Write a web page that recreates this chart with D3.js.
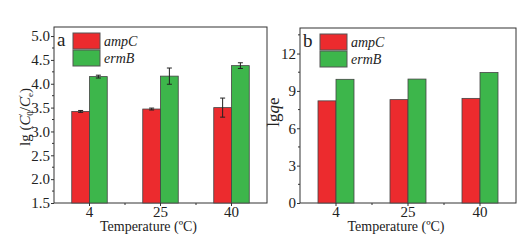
<!DOCTYPE html>
<html>
<head>
<meta charset="utf-8">
<script src="https://d3js.org/d3.v7.min.js"></script>
<style>
  body { margin: 0; background: #fff; }
</style>
</head>
<body>
<div id="chart"></div>
<script>
// data
var temps = ["4", "25", "40"];
var genes = ["ampC", "ermB"];
var removalAmpC = [3.42, 3.47, 3.50];
var removalErmB = [4.15, 4.16, 4.38];
var errAmpC = [0.02, 0.02, 0.20];
var errErmB = [0.03, 0.17, 0.06];
var lgqeAmpC = [8.2, 8.3, 8.4];
var lgqeErmB = [9.93, 9.95, 10.47];
var ticksA = [1.5, 2.0, 2.5, 3.0, 3.5, 4.0, 4.5, 5.0];
var ticksB = [0, 3, 6, 9, 12];

var red = "#ec2b2e", green = "#3db64b";
var serif = "'Liberation Serif', 'DejaVu Serif', 'Times New Roman', serif";

var svg = d3.select("#chart").append("svg")
    .attr("width", 529)
    .attr("height", 243);

function panel(opt) {
    var g = svg.append("g");
    var x = d3.scaleBand().domain(temps).range([opt.left, opt.right]).padding(0);
    var y = d3.scaleLinear().domain(opt.domain).range([opt.bottom, opt.top]);
    var barW = x.bandwidth() * 0.25;

    // frame
    g.append("rect")
        .attr("x", opt.left).attr("y", opt.top)
        .attr("width", opt.right - opt.left).attr("height", opt.bottom - opt.top)
        .attr("fill", "none").attr("stroke", "#333").attr("stroke-width", 1);

    // bars
    var series = [
        { vals: opt.amp, err: opt.errAmp, color: red, off: -1 },
        { vals: opt.erm, err: opt.errErm, color: green, off: 0 }
    ];
    series.forEach(function (s) {
        g.selectAll(null)
            .data(temps)
            .join("rect")
            .attr("x", function (d) { return x(d) + x.bandwidth() / 2 + s.off * barW; })
            .attr("y", function (d, i) { return y(s.vals[i]); })
            .attr("width", barW)
            .attr("height", function (d, i) { return opt.bottom - y(s.vals[i]); })
            .attr("fill", s.color)
            .attr("stroke", "#444")
            .attr("stroke-width", 0.8);
        if (s.err) {
            temps.forEach(function (d, i) {
                var cx = x(d) + x.bandwidth() / 2 + s.off * barW + barW / 2;
                var y1 = y(s.vals[i] + s.err[i]), y2 = y(s.vals[i] - s.err[i]);
                g.append("line").attr("x1", cx).attr("x2", cx).attr("y1", y1).attr("y2", y2)
                    .attr("stroke", "#222").attr("stroke-width", 1);
                [y1, y2].forEach(function (yy) {
                    g.append("line").attr("x1", cx - 2.5).attr("x2", cx + 2.5).attr("y1", yy).attr("y2", yy)
                        .attr("stroke", "#222").attr("stroke-width", 1);
                });
            });
        }
    });

    // y axis
    var yAxis = g.append("g")
        .attr("transform", "translate(" + opt.left + ",0)")
        .call(d3.axisLeft(y).tickValues(opt.ticks).tickSize(3).tickPadding(1)
            .tickFormat(opt.fmt));
    yAxis.select(".domain").remove();
    yAxis.selectAll("line").attr("stroke", "#333");
    yAxis.selectAll("text").style("font-size", "15px");
    // minor ticks
    g.selectAll(null)
        .data(opt.minor)
        .join("line")
        .attr("x1", opt.left - 2).attr("x2", opt.left)
        .attr("y1", function (d) { return y(d); }).attr("y2", function (d) { return y(d); })
        .attr("stroke", "#333");

    // x axis
    var xAxis = g.append("g")
        .attr("transform", "translate(0," + opt.bottom + ")")
        .call(d3.axisBottom(x).tickSize(3).tickPadding(0));
    xAxis.select(".domain").remove();
    xAxis.selectAll("line").attr("stroke", "#333");
    xAxis.selectAll("text").style("font-size", "15px");
    g.selectAll(null)
        .data(temps.slice(1))
        .join("line")
        .attr("x1", function (d) { return x(d); }).attr("x2", function (d) { return x(d); })
        .attr("y1", opt.bottom).attr("y2", opt.bottom + 2)
        .attr("stroke", "#333");

    g.append("text")
        .attr("x", (opt.left + opt.right) / 2 - 12)
        .attr("y", 231)
        .attr("text-anchor", "middle")
        .style("font-size", "14px")
        .text("Temperature (\u00baC)");

    // panel letter
    g.append("text")
        .attr("x", opt.left + 3).attr("y", opt.top + 19)
        .style("font-size", "19px")
        .text(opt.letter);

    // legend
    var lx = opt.left + opt.legendDx;
    genes.forEach(function (name, i) {
        g.append("rect")
            .attr("x", lx).attr("y", opt.top + 6 + i * 17)
            .attr("width", 27).attr("height", 16)
            .attr("fill", i === 0 ? red : green)
            .attr("stroke", "#555").attr("stroke-width", 1);
        g.append("text")
            .attr("x", lx + 31).attr("y", opt.top + 19 + i * 17)
            .style("font-size", "14px").style("font-style", "italic")
            .text(name);
    });

    return g;
}

var ga = panel({
    left: 54, right: 267, top: 27, bottom: 203,
    domain: [1.5, 5.19], ticks: ticksA, minor: d3.range(1.75, 5.1, 0.5),
    fmt: d3.format(".1f"),
    amp: removalAmpC, erm: removalErmB, errAmp: errAmpC, errErm: errErmB,
    letter: "a", legendDx: 19
});

var gb = panel({
    left: 300, right: 516, top: 28, bottom: 203,
    domain: [0, 14.05], ticks: ticksB, minor: [1.5, 4.5, 7.5, 10.5, 13.5],
    fmt: d3.format("d"),
    amp: lgqeAmpC, erm: lgqeErmB, errAmp: null, errErm: null,
    letter: "b", legendDx: 20
});

// y titles
var ta = svg.append("text")
    .attr("transform", "translate(30,117) rotate(-90)")
    .attr("text-anchor", "middle")
    .style("font-size", "15px");
ta.append("tspan").text("lg (");
ta.append("tspan").style("font-style", "italic").text("C");
ta.append("tspan").attr("dy", -5).style("font-size", "9px").text("\u2032");
ta.append("tspan").attr("dy", 8).attr("dx", -2).style("font-size", "9px").text("0");
ta.append("tspan").attr("dy", -3).text("/");
ta.append("tspan").style("font-style", "italic").text("C");
ta.append("tspan").attr("dy", -5).style("font-size", "9px").text("\u2032");
ta.append("tspan").attr("dy", 8).attr("dx", -2).style("font-size", "9px").text("e");
ta.append("tspan").attr("dy", -3).text(")");

var tb = svg.append("text")
    .attr("transform", "translate(279,112) rotate(-90)")
    .attr("text-anchor", "middle")
    .style("font-size", "17px");
tb.append("tspan").text("lg");
tb.append("tspan").style("font-style", "italic").text("q");
tb.append("tspan").text("e");

// one serif face for every label
svg.selectAll("text")
    .style("font-family", serif)
    .attr("fill", "#222");
</script>
</body>
</html>
